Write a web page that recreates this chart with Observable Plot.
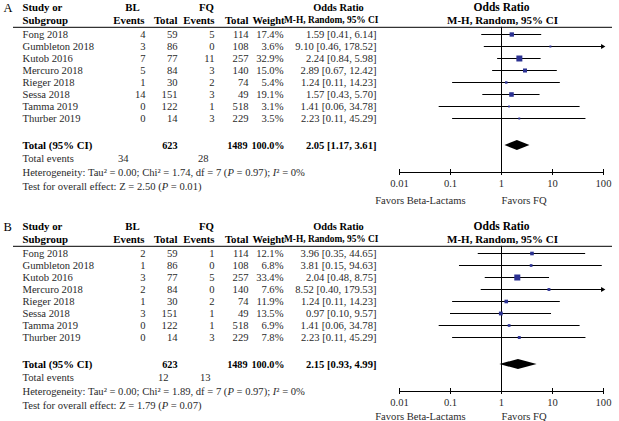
<!DOCTYPE html>
<html><head><meta charset="utf-8">
<script src="https://cdn.jsdelivr.net/npm/d3@7"></script>
<script src="https://cdn.jsdelivr.net/npm/@observablehq/plot@0.6"></script>
<style>
body{margin:0;background:#fff;}
#chart svg{display:block;overflow:visible;}
</style></head><body><div id="chart"></div>
<script>
// ---------- data ----------
const studies = ["Fong 2018","Gumbleton 2018","Kutob 2016","Mercuro 2018","Rieger 2018","Sessa 2018","Tamma 2019","Thurber 2019"];
const totalBL = [59,86,77,84,30,151,122,14];
const totalFQ = [114,108,257,140,74,49,518,229];

// Panel A
const aEventsBL = [4,3,7,5,1,14,0,0];
const aEventsFQ = [5,0,11,3,2,3,1,3];
const aWeight = [17.4,3.6,32.9,15.0,5.4,19.1,3.1,3.5];
const aOR = [1.59,9.10,2.24,2.89,1.24,1.57,1.41,2.23];
const aLo = [0.41,0.46,0.84,0.67,0.11,0.43,0.06,0.11];
const aHi = [6.14,178.52,5.98,12.42,14.23,5.70,34.78,45.29];
const aTotal = {or: 2.05, lo: 1.17, hi: 3.61, eventsBL: 34, eventsFQ: 28, tau2: "0.00", chi2: "1.74", df: 7, pHet: "0.97", i2: "0%", z: "2.50", p: "0.01"};

// Panel B
const bEventsBL = [2,1,3,2,1,3,0,0];
const bEventsFQ = [1,0,5,0,2,1,1,3];
const bWeight = [12.1,6.8,33.4,7.6,11.9,13.5,6.9,7.8];
const bOR = [3.96,3.81,2.04,8.52,1.24,0.97,1.41,2.23];
const bLo = [0.35,0.15,0.48,0.40,0.11,0.10,0.06,0.11];
const bHi = [44.65,94.63,8.75,179.53,14.23,9.57,34.78,45.29];
const bTotal = {or: 2.15, lo: 0.93, hi: 4.99, eventsBL: 12, eventsFQ: 13, tau2: "0.00", chi2: "1.89", df: 7, pHet: "0.97", i2: "0%", z: "1.79", p: "0.07"};

const sumBL = 623, sumFQ = 1489;
const axisTicks = [0.01, 0.1, 1, 10, 100];
const axisTickLabels = ["0.01", "0.1", "1", "10", "100"];
const leftLabel = "Favors Beta-Lactams", rightLabel = "Favors FQ";

// ---------- drawing ----------
const ML = 399, W = 619;
const f2 = d3.format(".2f"), f1 = d3.format(".1f");
const SERIF = "'Liberation Serif', 'Times New Roman', serif";
const TXT = "#2a2a2a";
const FS = 10.6;

function panel(letter, evBL, evFQ, wt, or, lo, hi, tot, height, evPos, favorsRow) {
  const rows = studies.map((s, i) => ({
    name: s, row: i, evBL: evBL[i], totBL: totalBL[i], evFQ: evFQ[i], totFQ: totalFQ[i],
    w: wt[i], or: or[i], lo: lo[i], hi: hi[i]
  }));
  const R = {h1: -2.25, h2: -1.17, line: -0.6, total: 9.25, events: 10.33, het: 11.5, test: 12.67, axis: 11.5, tickLab: 12.45, favors: favorsRow};
  const col = (data, text, px, anchor, extra = {}) =>
    Plot.text(data, {y: "row", text, frameAnchor: "left", dx: px - ML, textAnchor: anchor, fill: TXT, fontSize: FS, ...extra});
  const totalRow = [{row: R.total}];
  const bold = {fontWeight: "bold", fill: "#000", fontSize: 10.2};
  const hdr = (t, px, row, anchor, fs = 10.8) => Plot.text([{row}], {y: "row", text: () => t, frameAnchor: "left", dx: px - ML, textAnchor: anchor, fontWeight: "bold", fill: "#000", fontSize: fs});
  const diamond = [
    {x: tot.lo, y1: R.total, y2: R.total},
    {x: tot.or, y1: R.total - 0.42, y2: R.total + 0.42},
    {x: tot.hi, y1: R.total, y2: R.total}
  ];
  // statistics lines as segments [text, italic]
  const hetSegs = [[`Heterogeneity: Tau² = ${tot.tau2}; Chi² = ${tot.chi2}, df = ${tot.df} (`, false], ["P", true], [` = ${tot.pHet}); `, false], ["I", true], [`² = ${tot.i2}`, false]];
  const testSegs = [[`Test for overall effect: Z = ${tot.z} (`, false], ["P", true], [` = ${tot.p})`, false]];
  const join = segs => segs.map(s => s[0]).join("");

  const svg = Plot.plot({
    width: W, height,
    marginLeft: ML, marginRight: 16, marginTop: 0, marginBottom: 0,
    x: {type: "log", domain: [0.01, 100], axis: null},
    y: {domain: [-34 / 12, (219 - 34) / 12], range: [0, 219], axis: null},
    r: {type: "sqrt", domain: [0, 33.4], range: [0, 3.4]},
    style: {fontFamily: SERIF, fontSize: FS + "px", color: TXT, background: "#fff"},
    marks: [
      // panel letter
      Plot.text([{row: R.h1}], {y: "row", text: () => letter, frameAnchor: "left", dx: 3 - ML, textAnchor: "start", fontSize: 12.5, fill: "#000"}),
      // table header
      hdr("Study or", 22, R.h1, "start"),
      hdr("Subgroup", 22, R.h2, "start"),
      hdr("BL", 132, R.h1, "middle"),
      hdr("FQ", 206, R.h1, "middle"),
      hdr("Events", 144, R.h2, "end"),
      hdr("Total", 177, R.h2, "end"),
      hdr("Events", 214, R.h2, "end"),
      hdr("Total", 248, R.h2, "end"),
      hdr("Weight", 284, R.h2, "end", 10.5),
      hdr("Odds Ratio", 338, R.h1, "middle", 10.4),
      hdr("M-H, Random, 95% CI", 378, R.h2, "end", 9.4),
      Plot.text(["Odds Ratio"], {x: 1, y: R.h1, text: d => d, fontWeight: "bold", fill: "#000", fontSize: 11.5}),
      Plot.text(["M-H, Random, 95% CI"], {x: 1, y: R.h2, text: d => d, fontWeight: "bold", fill: "#000", fontSize: 11, dx: 1}),
      Plot.ruleY([R.line], {stroke: "#000", strokeWidth: 1, insetLeft: -(ML - 13), insetRight: -9}),
      // study rows
      col(rows, "name", 22, "start"),
      col(rows, "evBL", 145, "end"),
      col(rows, "totBL", 177, "end"),
      col(rows, "evFQ", 214, "end"),
      col(rows, "totFQ", 248, "end"),
      col(rows, d => f1(d.w) + "%", 283, "end"),
      col(rows, d => `${f2(d.or)} [${f2(d.lo)}, ${f2(d.hi)}]`, 376, "end"),
      // totals
      col(totalRow, () => "Total (95% CI)", 22, "start", {...bold, fontSize: 10.8}),
      col(totalRow, () => String(sumBL), 177, "end", bold),
      col(totalRow, () => String(sumFQ), 247, "end", bold),
      col(totalRow, () => "100.0%", 284, "end", bold),
      col(totalRow, () => `${f2(tot.or)} [${f2(tot.lo)}, ${f2(tot.hi)}]`, 376, "end", {...bold, fontSize: 10.6}),
      col([{row: R.events}], () => "Total events", 22, "start"),
      col([{row: R.events}], () => String(tot.eventsBL), evPos[0], "end"),
      col([{row: R.events}], () => String(tot.eventsFQ), evPos[1], "end"),
      col([{row: R.het}], () => join(hetSegs), 22, "start", {className: "seg-het"}),
      col([{row: R.test}], () => join(testSegs), 22, "start", {className: "seg-test"}),
      // forest
      Plot.ruleX([1], {y1: R.line, y2: R.axis, stroke: "#000", strokeWidth: 1}),
      Plot.ruleY(rows, {y: "row", x1: d => Math.max(d.lo, 0.01), x2: d => Math.min(d.hi, 100), stroke: "#000", strokeWidth: 1}),
      Plot.dot(rows.filter(d => d.hi > 100), {x: d => Math.min(d.hi, 100), y: "row", symbol: "triangle2", rotate: 90, r: 2.4, fill: "#000", stroke: "none", dx: -1}),
      Plot.dot(rows, {x: "or", y: "row", r: "w", symbol: "square", fill: "#2b3192", stroke: "none"}),
      Plot.areaY(diamond, {x: "x", y1: "y1", y2: "y2", fill: "#000"}),
      // axis
      Plot.ruleY([R.axis], {x1: 0.01, x2: 100, stroke: "#000", strokeWidth: 1}),
      Plot.ruleX(axisTicks, {y1: R.axis - 0.25, y2: R.axis + 0.25, stroke: "#000", strokeWidth: 1}),
      Plot.text(axisTicks, {x: d => d, y: R.tickLab, text: (d, i) => axisTickLabels[i], fill: TXT, fontSize: FS}),
      Plot.text([leftLabel], {x: 1, y: R.favors, text: d => d, textAnchor: "end", dx: -36, fill: TXT, fontSize: FS}),
      Plot.text([rightLabel], {x: 1, y: R.favors, text: d => d, textAnchor: "start", dx: 0, fill: TXT, fontSize: FS})
    ]
  });
  // rebuild statistics lines with italic P and I
  const rebuild = (cls, segs) => {
    d3.select(svg).selectAll(`g.${cls} text`).each(function () {
      const sel = d3.select(this);
      sel.text(null);
      segs.forEach(([t, it]) => {
        const ts = sel.append("tspan").text(t);
        if (it) ts.attr("font-style", "italic");
      });
    });
  };
  rebuild("seg-het", hetSegs);
  rebuild("seg-test", testSegs);
  return svg;
}

const chart = document.getElementById("chart");
chart.append(panel("A", aEventsBL, aEventsFQ, aWeight, aOR, aLo, aHi, aTotal, 219, [128, 208], 13.8));
chart.append(panel("B", bEventsBL, bEventsFQ, bWeight, bOR, bLo, bHi, bTotal, 202, [168, 210], 13.55));
</script>
</body></html>
